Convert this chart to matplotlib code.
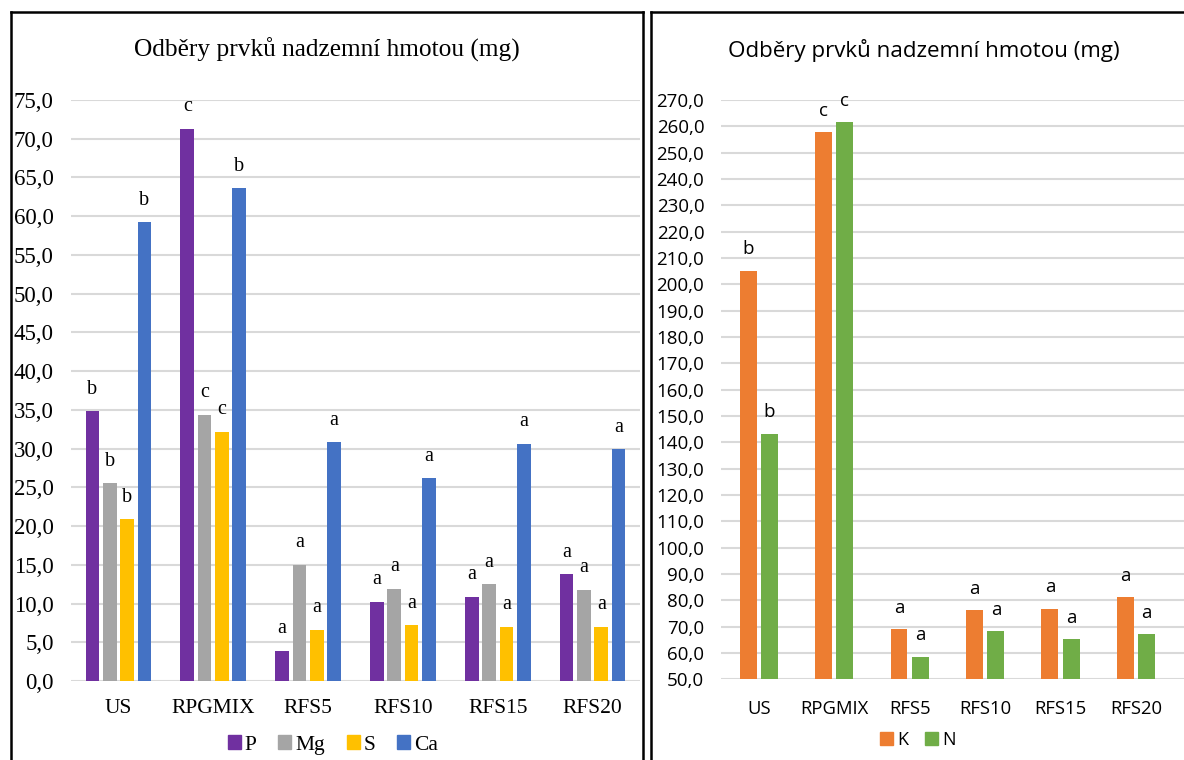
import matplotlib
matplotlib.use("Agg")
import matplotlib.pyplot as plt
from matplotlib.lines import Line2D
from matplotlib.patches import Patch
import numpy as np

# data
categories = ['US', 'RPGMIX', 'RFS5', 'RFS10', 'RFS15', 'RFS20']

p_vals = [34.8, 71.3, 3.9, 10.2, 10.9, 13.8]
mg_vals = [25.5, 34.4, 15.0, 11.9, 12.5, 11.8]
s_vals = [20.9, 32.2, 6.6, 7.2, 7.0, 7.0]
ca_vals = [59.2, 63.6, 30.8, 26.2, 30.6, 29.9]

p_letters = ['b', 'c', 'a', 'a', 'a', 'a']
mg_letters = ['b', 'c', 'a', 'a', 'a', 'a']
s_letters = ['b', 'c', 'a', 'a', 'a', 'a']
ca_letters = ['b', 'b', 'a', 'a', 'a', 'a']

k_vals = [205.2, 257.7, 69.0, 76.2, 76.8, 81.1]
n_vals = [143.2, 261.5, 58.6, 68.2, 65.3, 67.2]
k_letters = ['b', 'c', 'a', 'a', 'a', 'a']
n_letters = ['b', 'c', 'a', 'a', 'a', 'a']

title = 'Odběry prvků nadzemní hmotou (mg)'

W, H = 1184, 760
fig = plt.figure(figsize=(W / 100, H / 100), dpi=100)


def px_box(x0, x1, ytop, ybot):
    # pixel box -> figure fraction [left, bottom, width, height]
    return [x0 / W, (H - ybot) / H, (x1 - x0) / W, (ybot - ytop) / H]


def fmt(v):
    return f"{v:.1f}".replace('.', ',')


def style_axes(ax, ymin, ymax, step, tick_font, tick_size, pad):
    ax.set_ylim(ymin, ymax)
    ax.set_yticks(np.arange(ymin, ymax + step / 2, step))
    ax.set_yticklabels([fmt(v) for v in np.arange(ymin, ymax + step / 2, step)],
                       family=tick_font, fontsize=tick_size)
    ax.grid(axis='y', color='#d9d9d9', linewidth=1.5)
    ax.set_axisbelow(True)
    for s in ax.spines.values():
        s.set_visible(False)
    ax.tick_params(length=0)
    ax.tick_params(axis='y', pad=pad)


# ---------- left panel ----------
serif = 'Liberation Serif'
ax1 = fig.add_axes(px_box(71, 640, 100, 681))
x = np.arange(len(categories))
pitch = 0.1825
bw = 0.145
series_l = [(p_vals, p_letters, '#7030A0', 'P'),
            (mg_vals, mg_letters, '#A5A5A5', 'Mg'),
            (s_vals, s_letters, '#FFC000', 'S'),
            (ca_vals, ca_letters, '#4472C4', 'Ca')]
for i, (vals, letters, col, name) in enumerate(series_l):
    xs = x + (i - 1.5) * pitch
    ax1.bar(xs, vals, width=bw, color=col, label=name, zorder=2)
    for xi, v, t in zip(xs, vals, letters):
        ax1.annotate(t, (xi, v), xytext=(0, 9), textcoords='offset points',
                     ha='center', va='bottom', family=serif, fontsize=14.5)
style_axes(ax1, 0, 75, 5, serif, 16.5, 12.5)
ax1.set_xlim(-0.5, 5.5)
ax1.set_xticks(x)
ax1.set_xticklabels(categories, family=serif, fontsize=15.5)
ax1.tick_params(axis='x', pad=13)
fig.text(327 / W, 1 - 50 / H, title, family=serif, fontsize=18.3,
         ha='center', va='center')
handles = [Patch(color=c, label=n) for _, _, c, n in series_l]
fig.legend(handles=handles, loc='center', bbox_to_anchor=(333 / W, 1 - 745 / H),
           ncol=4, frameon=False, prop={'family': serif, 'size': 15.5},
           handlelength=0.6, handleheight=0.6, handletextpad=0.2,
           columnspacing=1.0)

# ---------- right panel ----------
sans = 'Open Sans'
ax2 = fig.add_axes(px_box(721, 1184, 100, 679.3))
pitch2 = 0.283
bw2 = 0.225
series_r = [(k_vals, k_letters, '#ED7D31', 'K'),
            (n_vals, n_letters, '#70AD47', 'N')]
for i, (vals, letters, col, name) in enumerate(series_r):
    xs = x + (i - 0.5) * pitch2
    ax2.bar(xs, vals, width=bw2, color=col, label=name, zorder=2)
    for xi, v, t in zip(xs, vals, letters):
        ax2.annotate(t, (xi, v), xytext=(0, 9), textcoords='offset points',
                     ha='center', va='bottom', family=sans, fontsize=13.5)
style_axes(ax2, 50, 270, 10, sans, 13.5, 12)
ax2.set_xlim(-0.5, 5.5 + 0.135)
ax2.set_xticks(x)
ax2.set_xticklabels(categories, family=sans, fontsize=13.3)
ax2.tick_params(axis='x', pad=15)
fig.text(924 / W, 1 - 50 / H, title, family=sans, fontsize=16.1,
         ha='center', va='center')
handles2 = [Patch(color=c, label=n) for _, _, c, n in series_r]
fig.legend(handles=handles2, loc='center', bbox_to_anchor=(918 / W, 1 - 740 / H),
           ncol=2, frameon=False, prop={'family': sans, 'size': 13},
           handlelength=0.7, handleheight=0.7, handletextpad=0.25,
           columnspacing=0.9)

# ---------- panel borders ----------
def vline(xp, y0, y1):
    fig.add_artist(Line2D([xp / W, xp / W], [1 - y0 / H, 1 - y1 / H],
                          transform=fig.transFigure, color='black', linewidth=1.8))


def hline(x0, x1, yp):
    fig.add_artist(Line2D([x0 / W, x1 / W], [1 - yp / H, 1 - yp / H],
                          transform=fig.transFigure, color='black', linewidth=1.8))


hline(11, 643, 12)
vline(11, 12, 760)
vline(643, 12, 760)
hline(651, 1184, 12)
vline(651, 12, 760)

fig.savefig('out.png', dpi=100)
